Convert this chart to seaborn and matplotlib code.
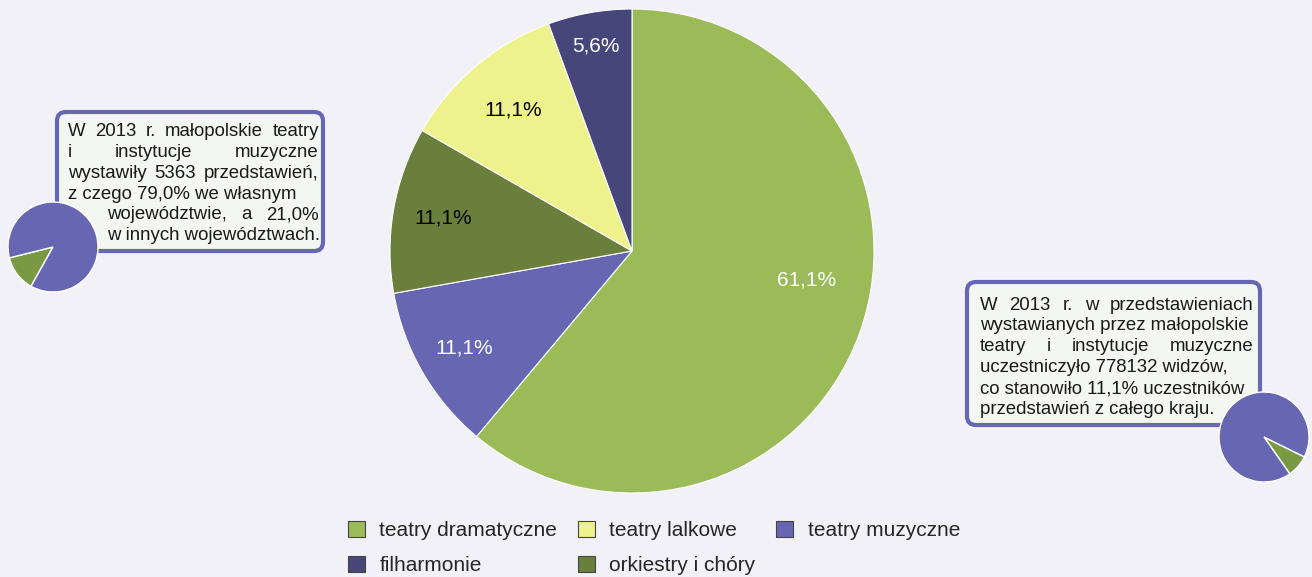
import matplotlib
matplotlib.use("Agg")
import numpy as np
import matplotlib.pyplot as plt
import seaborn as sns
from matplotlib.patches import FancyBboxPatch, Patch

# main pie: share of performances by institution type (%)
categories = ['teatry dramatyczne', 'teatry muzyczne', 'orkiestry i chóry',
              'teatry lalkowe', 'filharmonie']
shares = [61.1, 11.1, 11.1, 11.1, 5.6]
colors = ['#9BBB59', '#6666B3', '#6A7F3B', '#EEF28C', '#46467A']
label_colors = ['white', 'white', 'black', 'black', 'white']
legend_order = ['teatry dramatyczne', 'filharmonie', 'teatry lalkowe',
                'orkiestry i chóry', 'teatry muzyczne']

# small decorative pies (green part, purple part) as drawn
left_pie = [13, 87]
right_pie = [8, 92]
small_colors = ['#799A43', '#6666B3']

left_text = ["W 2013 r. małopolskie teatry",
             "i instytucje muzyczne",
             "wystawiły 5363 przedstawień,",
             "z czego 79,0% we własnym",
             "województwie, a 21,0%",
             "w innych województwach."]
left_just = [True, True, True, False, True, False]

right_text = ["W 2013 r. w przedstawieniach",
              "wystawianych przez małopolskie",
              "teatry i instytucje muzyczne",
              "uczestniczyło 778132 widzów,",
              "co stanowiło 11,1% uczestników",
              "przedstawień z całego kraju."]
right_just = [True, False, True, False, False, False]

BG = '#F2F1F7'
BOX_FILL = '#F4F6F1'
EDGE = '#6666B3'

sns.set_theme(style="white")
plt.rcParams['font.family'] = ['Liberation Sans', 'DejaVu Sans']

W, H = 1312, 577
fig = plt.figure(figsize=(W / 100, H / 100), dpi=100, facecolor=BG)


def px_axes(cx, cy, r):
    return fig.add_axes([(cx - r) / W, 1 - (cy + r) / H, 2 * r / W, 2 * r / H])


# main pie
ax = px_axes(632, 251, 242)
pal = sns.color_palette(colors)
wedges, texts, autotexts = ax.pie(
    shares, colors=pal, startangle=90, counterclock=False,
    autopct=lambda p: f"{p:.1f}%".replace('.', ','), pctdistance=0.78,
    wedgeprops=dict(edgecolor='white', linewidth=0.8),
    textprops=dict(fontsize=15))
# label distance from centre differs a little per slice (as in the original)
label_dist = [0.73, 0.80, 0.79, 0.76, 0.86]
for w, t, c, d in zip(wedges, autotexts, label_colors, label_dist):
    t.set_color(c)
    a = np.deg2rad((w.theta1 + w.theta2) / 2)
    t.set_position((d * np.cos(a), d * np.sin(a)))
autotexts[0].set_position((0.72, -0.12))
ax.set_xlim(-1, 1)
ax.set_ylim(-1, 1)
ax.set_aspect('equal')

# overlay in pixel coordinates for the text boxes
ov = fig.add_axes([0, 0, 1, 1])
ov.set_xlim(0, W)
ov.set_ylim(H, 0)
ov.axis('off')

renderer = fig.canvas.get_renderer()
kw = dict(fontsize=13.4, color='#1a1a1a', va='center', ha='left')


def put_line(text, x0, x1, y, justify):
    if not justify:
        ov.text(x0, y, text, **kw)
        return
    words = text.split()
    arts = [ov.text(0, y, w, **kw) for w in words]
    widths = [a.get_window_extent(renderer).width for a in arts]
    gap = (x1 - x0 - sum(widths)) / (len(words) - 1)
    x = x0
    for a, w in zip(arts, widths):
        a.set_x(x)
        x += w + gap


ov.add_patch(FancyBboxPatch((57, 112), 266, 139,
                            boxstyle="round,pad=0,rounding_size=9",
                            facecolor=BOX_FILL, edgecolor=EDGE, linewidth=3))
for i, (t, j) in enumerate(zip(left_text, left_just)):
    x0 = 68 if i < 4 else 107
    put_line(t, x0, 319, 132 + i * 20.7, j)

ov.add_patch(FancyBboxPatch((967, 282), 293, 143,
                            boxstyle="round,pad=0,rounding_size=9",
                            facecolor=BOX_FILL, edgecolor=EDGE, linewidth=3))
for i, (t, j) in enumerate(zip(right_text, right_just)):
    put_line(t, 980, 1254, 305 + i * 20.9, j)

# small pies on top of the boxes
axl = px_axes(53, 247, 45)
axl.pie(left_pie, colors=small_colors, startangle=194,
        wedgeprops=dict(edgecolor='white', linewidth=1))
axl.set_xlim(-1, 1)
axl.set_ylim(-1, 1)

axr = px_axes(1264, 437, 45)
axr.pie(right_pie, colors=small_colors, startangle=-55,
        wedgeprops=dict(edgecolor='white', linewidth=1))
axr.set_xlim(-1, 1)
axr.set_ylim(-1, 1)

# legend
color_of = dict(zip(categories, colors))
handles = [Patch(facecolor=color_of[c], edgecolor='#444444', linewidth=0.8)
           for c in legend_order]
fig.legend(handles, legend_order, ncol=3, loc='center',
           bbox_to_anchor=(654 / W, 1 - 548 / H), frameon=False,
           fontsize=15, handlelength=0.8, handleheight=0.8,
           handletextpad=0.7, columnspacing=1.0, labelspacing=0.75)

fig.savefig('out.png', dpi=100, facecolor=BG)
